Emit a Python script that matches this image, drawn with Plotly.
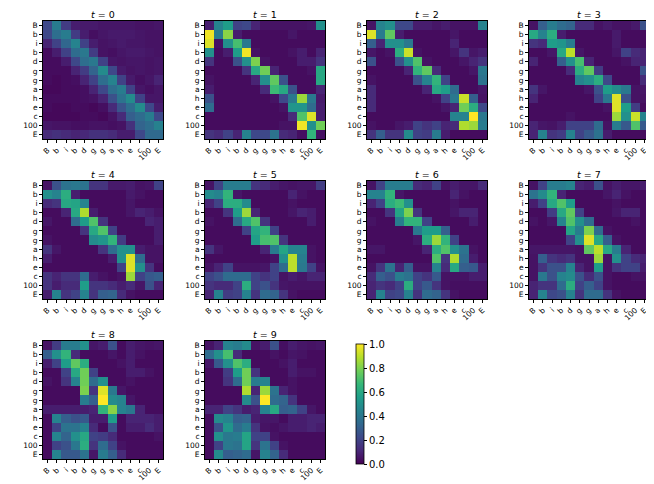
import plotly.graph_objects as go

labels = ["B", "b", "i", "b", "d", "g", "g", "a", "h", "e", "c", "100", "E"]
times = [0, 1, 2, 3, 4, 5, 6, 7, 8, 9]

T0 = [
    [.22,.42,.18,.08,.07,.07,.06,.06,.06,.06,.05,.05,.06],
    [.22,.36,.42,.18,.08,.04,.06,.07,.07,.07,.06,.05,.05],
    [.10,.20,.33,.45,.20,.08,.05,.06,.07,.06,.06,.05,.05],
    [.03,.08,.20,.35,.40,.18,.05,.04,.06,.07,.07,.06,.05],
    [.03,.03,.08,.22,.36,.40,.20,.06,.05,.06,.06,.05,.06],
    [.03,.03,.03,.10,.18,.32,.48,.22,.07,.05,.06,.05,.06],
    [.03,.02,.03,.04,.10,.20,.36,.45,.20,.07,.04,.06,.10],
    [.02,.02,.03,.03,.04,.10,.22,.36,.42,.20,.06,.04,.06],
    [.03,.03,.03,.03,.04,.05,.10,.25,.38,.48,.20,.06,.06],
    [.03,.02,.02,.03,.03,.02,.04,.12,.26,.36,.48,.22,.08],
    [.02,.02,.02,.02,.03,.03,.02,.05,.12,.30,.35,.42,.22],
    [.06,.05,.05,.04,.04,.05,.05,.04,.05,.14,.32,.36,.44],
    [.12,.14,.12,.10,.11,.14,.14,.12,.08,.08,.22,.34,.34],
]
T1 = [
    [.08,.45,.55,.20,.22,.10,.05,.05,.05,.05,.05,.06,.50],
    [.98,.42,.82,.08,.03,.03,.03,.03,.03,.06,.03,.03,.03],
    [.95,.05,.50,.70,.40,.03,.03,.03,.03,.03,.03,.03,.03],
    [.50,.03,.08,.55,.98,.05,.03,.03,.03,.05,.08,.03,.10],
    [.15,.03,.03,.25,.50,.80,.05,.03,.03,.03,.08,.08,.15],
    [.03,.03,.03,.03,.15,.60,.78,.10,.03,.03,.03,.05,.60],
    [.05,.03,.03,.03,.03,.10,.50,.75,.25,.03,.03,.03,.60],
    [.08,.03,.03,.03,.03,.03,.12,.68,.60,.25,.03,.03,.10],
    [.25,.03,.03,.03,.03,.03,.03,.05,.22,.40,.85,.40,.07],
    [.35,.03,.03,.03,.03,.03,.03,.03,.05,.52,.52,.35,.08],
    [.03,.03,.03,.03,.03,.03,.03,.03,.03,.12,.72,.95,.08],
    [.03,.03,.03,.03,.03,.03,.03,.03,.05,.05,.98,.50,.78],
    [.15,.12,.20,.10,.45,.22,.22,.38,.12,.10,.04,.65,.04],
]
T2 = [
    [.05,.45,.50,.22,.22,.08,.08,.06,.08,.05,.05,.05,.45],
    [.95,.42,.75,.08,.03,.03,.03,.03,.03,.06,.03,.03,.03],
    [.30,.10,.50,.50,.40,.03,.03,.03,.03,.10,.03,.03,.03],
    [.06,.03,.05,.62,.92,.05,.03,.03,.03,.06,.15,.06,.08],
    [.25,.03,.03,.25,.50,.72,.05,.03,.03,.03,.06,.10,.15],
    [.03,.03,.03,.03,.10,.65,.75,.12,.03,.03,.03,.06,.40],
    [.05,.03,.03,.03,.03,.25,.45,.65,.20,.03,.03,.03,.38],
    [.12,.03,.03,.03,.03,.03,.10,.60,.55,.35,.03,.03,.06],
    [.12,.03,.03,.03,.03,.03,.03,.05,.20,.40,.92,.30,.05],
    [.12,.03,.03,.03,.03,.03,.03,.03,.06,.10,.78,.62,.22],
    [.03,.03,.03,.03,.03,.03,.03,.03,.03,.45,.45,1.0,.40],
    [.05,.03,.03,.06,.08,.20,.15,.20,.10,.12,.88,.85,.42],
    [.15,.30,.15,.15,.48,.20,.18,.42,.08,.03,.03,.03,.03],
]
T3 = [
    [.05,.30,.42,.35,.32,.12,.12,.05,.07,.05,.05,.07,.25],
    [.60,.45,.62,.08,.03,.03,.03,.03,.03,.07,.03,.03,.03],
    [.15,.12,.55,.52,.42,.03,.03,.03,.03,.07,.03,.03,.03],
    [.03,.03,.06,.60,.90,.06,.03,.03,.03,.06,.20,.12,.10],
    [.10,.03,.03,.30,.50,.70,.10,.03,.03,.03,.05,.10,.10],
    [.03,.03,.03,.03,.12,.62,.75,.18,.03,.03,.03,.03,.25],
    [.03,.03,.03,.03,.03,.45,.50,.62,.22,.03,.03,.03,.12],
    [.15,.06,.03,.03,.03,.03,.06,.25,.55,.48,.40,.05,.06],
    [.10,.03,.03,.03,.03,.03,.03,.20,.40,.95,.25,.05,.05],
    [.03,.03,.03,.03,.03,.03,.03,.03,.05,.95,.55,.18,.03],
    [.03,.03,.03,.03,.05,.03,.03,.03,.03,.85,.50,.92,.45],
    [.10,.06,.05,.08,.20,.20,.20,.35,.05,.42,.28,.72,.28],
    [.10,.45,.15,.18,.45,.20,.28,.38,.08,.03,.03,.03,.03],
]
T4 = [
    [.05,.25,.38,.40,.38,.15,.15,.07,.07,.08,.05,.06,.20],
    [.50,.45,.62,.08,.03,.03,.03,.03,.03,.07,.05,.03,.03],
    [.12,.15,.60,.58,.45,.03,.03,.03,.03,.06,.03,.03,.03],
    [.03,.03,.10,.60,.88,.08,.03,.03,.03,.06,.10,.08,.05],
    [.06,.03,.03,.35,.55,.72,.15,.03,.03,.03,.03,.10,.08],
    [.03,.03,.03,.03,.15,.60,.72,.20,.03,.03,.03,.03,.08],
    [.05,.03,.03,.03,.03,.48,.52,.65,.18,.03,.03,.03,.08],
    [.15,.06,.03,.03,.03,.03,.15,.35,.50,.50,.08,.05,.05],
    [.08,.03,.03,.03,.03,.03,.03,.08,.50,.95,.35,.05,.05],
    [.03,.03,.03,.03,.03,.03,.03,.03,.20,.95,.50,.15,.03],
    [.15,.10,.15,.15,.35,.08,.05,.03,.05,.85,.20,.28,.30],
    [.15,.08,.12,.12,.55,.15,.15,.12,.08,.12,.06,.25,.10],
    [.08,.45,.15,.20,.45,.15,.30,.32,.12,.05,.03,.03,.03],
]
T5 = [
    [.05,.20,.42,.42,.42,.15,.12,.08,.06,.05,.06,.06,.18],
    [.48,.45,.65,.06,.03,.03,.03,.03,.03,.10,.05,.03,.03],
    [.10,.20,.62,.62,.48,.03,.03,.03,.03,.05,.03,.03,.03],
    [.03,.03,.15,.55,.85,.10,.03,.03,.03,.06,.10,.08,.03],
    [.05,.03,.03,.35,.60,.72,.15,.03,.03,.03,.03,.08,.03],
    [.03,.03,.03,.03,.20,.58,.65,.20,.03,.03,.03,.03,.03],
    [.03,.03,.03,.03,.03,.55,.70,.72,.15,.03,.03,.03,.03],
    [.15,.06,.03,.03,.03,.03,.10,.42,.58,.45,.45,.05,.03],
    [.03,.03,.03,.03,.03,.03,.03,.05,.50,.90,.42,.05,.03],
    [.05,.10,.20,.05,.05,.05,.06,.20,.35,.90,.40,.20,.05],
    [.20,.25,.35,.35,.35,.20,.15,.20,.05,.08,.06,.10,.10],
    [.15,.12,.12,.20,.62,.20,.25,.15,.06,.05,.05,.05,.05],
    [.10,.45,.18,.20,.45,.15,.35,.32,.15,.05,.03,.03,.03],
]
T6 = [
    [.05,.20,.42,.42,.42,.12,.10,.20,.05,.08,.06,.06,.12],
    [.45,.45,.65,.06,.03,.03,.03,.03,.03,.10,.05,.03,.03],
    [.10,.20,.62,.68,.50,.03,.03,.03,.03,.05,.03,.03,.03],
    [.03,.03,.15,.58,.80,.15,.03,.03,.03,.06,.10,.10,.03],
    [.05,.03,.03,.42,.65,.65,.20,.03,.03,.03,.03,.08,.03],
    [.03,.03,.03,.03,.03,.40,.55,.55,.30,.03,.03,.03,.03],
    [.03,.03,.03,.03,.03,.06,.62,.85,.65,.20,.03,.03,.03],
    [.06,.06,.03,.03,.03,.03,.10,.62,.72,.50,.38,.05,.03],
    [.03,.03,.03,.03,.03,.03,.03,.72,.15,.88,.35,.08,.03],
    [.05,.15,.38,.10,.30,.05,.05,.45,.12,.60,.30,.28,.08],
    [.12,.30,.25,.42,.38,.20,.15,.28,.05,.05,.05,.08,.08],
    [.10,.15,.12,.20,.62,.20,.28,.15,.05,.04,.04,.04,.04],
    [.10,.45,.20,.22,.45,.15,.35,.32,.15,.05,.03,.03,.03],
]
T7 = [
    [.05,.20,.42,.42,.45,.10,.08,.25,.05,.08,.06,.06,.08],
    [.38,.48,.65,.10,.03,.03,.03,.03,.06,.10,.05,.03,.03],
    [.08,.20,.60,.72,.55,.03,.03,.03,.03,.05,.03,.03,.03],
    [.03,.03,.18,.60,.75,.20,.03,.03,.03,.06,.10,.10,.03],
    [.05,.03,.06,.45,.72,.50,.35,.03,.03,.03,.03,.05,.03],
    [.03,.03,.03,.03,.58,.42,.80,.35,.05,.03,.03,.03,.03],
    [.03,.03,.03,.03,.20,.50,.95,.60,.30,.05,.03,.03,.03],
    [.06,.06,.06,.06,.06,.05,.75,.90,.60,.42,.10,.03,.03],
    [.05,.30,.15,.12,.15,.05,.05,.85,.05,.50,.20,.12,.10],
    [.05,.15,.25,.25,.45,.10,.05,.55,.05,.15,.20,.20,.08],
    [.05,.40,.25,.45,.48,.25,.12,.25,.05,.03,.03,.05,.05],
    [.10,.15,.15,.35,.62,.20,.30,.20,.05,.03,.03,.03,.03],
    [.10,.45,.22,.25,.45,.15,.35,.35,.15,.05,.03,.03,.03],
]
T8 = [
    [.05,.18,.42,.42,.50,.06,.08,.25,.03,.08,.06,.05,.06],
    [.30,.50,.65,.12,.03,.03,.03,.06,.03,.08,.05,.03,.03],
    [.08,.20,.55,.75,.62,.03,.03,.03,.05,.08,.03,.03,.03],
    [.03,.03,.20,.60,.78,.20,.03,.03,.03,.08,.08,.05,.03],
    [.05,.03,.15,.45,.78,.35,.50,.03,.03,.05,.03,.03,.03],
    [.03,.03,.03,.03,.80,.15,.95,.40,.06,.03,.03,.03,.03],
    [.03,.03,.03,.03,.42,.30,1.0,.48,.45,.06,.03,.03,.03],
    [.08,.08,.08,.08,.08,.10,.65,.82,.45,.40,.10,.03,.03],
    [.03,.45,.30,.25,.28,.08,.08,.55,.03,.10,.10,.10,.08],
    [.03,.20,.38,.38,.45,.12,.03,.25,.03,.08,.08,.12,.08],
    [.03,.45,.32,.50,.60,.20,.18,.12,.03,.03,.03,.03,.05],
    [.03,.20,.25,.40,.62,.15,.35,.20,.05,.03,.03,.03,.03],
    [.03,.45,.28,.28,.38,.06,.42,.30,.12,.03,.03,.03,.03],
]
T9 = [
    [.05,.10,.45,.42,.48,.05,.08,.25,.04,.08,.06,.05,.06],
    [.35,.50,.70,.12,.03,.03,.03,.05,.03,.06,.05,.03,.03],
    [.06,.28,.50,.72,.62,.03,.03,.03,.05,.08,.03,.03,.03],
    [.03,.03,.18,.55,.78,.15,.03,.03,.03,.08,.05,.05,.03],
    [.03,.03,.15,.35,.78,.42,.45,.03,.03,.05,.03,.03,.03],
    [.03,.03,.03,.03,.88,.10,.85,.38,.10,.05,.03,.03,.03],
    [.03,.03,.03,.03,.48,.25,1.0,.35,.32,.15,.03,.03,.03],
    [.10,.10,.20,.15,.08,.10,.45,.60,.30,.32,.20,.06,.03],
    [.03,.48,.45,.30,.32,.08,.06,.06,.03,.08,.08,.10,.10],
    [.03,.25,.52,.35,.42,.15,.05,.04,.06,.08,.08,.10,.08],
    [.03,.50,.40,.42,.58,.20,.20,.05,.03,.03,.03,.03,.03],
    [.03,.20,.40,.38,.58,.15,.38,.20,.05,.03,.03,.03,.03],
    [.03,.48,.30,.32,.35,.06,.45,.32,.12,.03,.03,.03,.03],
]
matrices = [T0, T1, T2, T3, T4, T5, T6, T7, T8, T9]
cbar_ticks = [0.0, 0.2, 0.4, 0.6, 0.8, 1.0]

W, H = 654, 484
col_left = [35, 197, 359, 521]
row_top = [13, 173, 333]
pw, ph = 120, 118
font = "DejaVu Sans"

fig = go.Figure()
idx = list(range(len(labels)))
annotations = []
for k, (t, Z) in enumerate(zip(times, matrices)):
    r, c = divmod(k, 4)
    n = k + 1
    xa = "x" if n == 1 else f"x{n}"
    ya = "y" if n == 1 else f"y{n}"
    fig.add_trace(go.Heatmap(z=Z, x=idx, y=idx, coloraxis="coloraxis",
                             xaxis=xa, yaxis=ya, hoverinfo="skip"))
    x0 = col_left[c] / W
    x1 = (col_left[c] + pw) / W
    y1 = 1 - row_top[r] / H
    y0 = 1 - (row_top[r] + ph) / H
    axcommon = dict(tickvals=idx, ticktext=labels, ticks="outside", ticklen=3,
                    tickwidth=0.8, tickcolor="#000", showline=True, mirror=True,
                    linecolor="#000", linewidth=0.8, showgrid=False, zeroline=False,
                    tickfont=dict(family=font, size=7.5, color="#000"))
    fig.layout[("xaxis" if n == 1 else f"xaxis{n}")] = dict(
        domain=[x0, x1], anchor=ya, range=[-0.5, 12.5], tickangle=-45, **axcommon)
    fig.layout[("yaxis" if n == 1 else f"yaxis{n}")] = dict(
        domain=[y0, y1], anchor=xa, range=[12.5, -0.5], **axcommon)
    annotations.append(dict(text=f"<i>t</i> = {t}", x=(x0 + x1) / 2, y=y1,
                            xref="paper", yref="paper", xanchor="center",
                            yanchor="bottom", yshift=-1, showarrow=False,
                            font=dict(family=font, size=9.5, color="#000")))

fig.update_layout(
    width=W, height=H, margin=dict(l=0, r=0, t=0, b=0),
    paper_bgcolor="white", plot_bgcolor="white",
    annotations=annotations,
    coloraxis=dict(colorscale="Viridis", cmin=0, cmax=1,
                   colorbar=dict(x=348 / W, xanchor="left", y=1 - 456 / H,
                                 yanchor="bottom", len=(456 - 336) / H,
                                 lenmode="fraction", thickness=8,
                                 thicknessmode="pixels", xpad=0, ypad=0,
                                 outlinewidth=0.8, outlinecolor="#000",
                                 ticks="outside", ticklen=3, tickcolor="#000",
                                 tickvals=cbar_ticks,
                                 ticktext=[f"{v:.1f}" for v in cbar_ticks],
                                 tickfont=dict(family=font, size=10, color="#000"))),
)
fig.write_html("out.html")
